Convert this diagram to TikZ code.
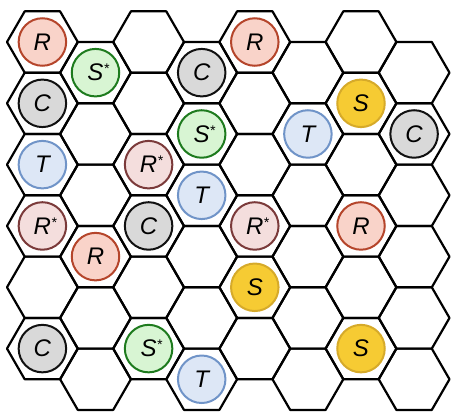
\documentclass[tikz,border=0pt]{standalone}
\usepackage{fontspec}
\setmainfont{Liberation Sans}
\definecolor{rFill}{HTML}{F9D3C9}
\definecolor{rLine}{HTML}{B5452B}
\definecolor{rsFill}{HTML}{F4DEDD}
\definecolor{rsLine}{HTML}{7B3A3A}
\definecolor{ssFill}{HTML}{D8F5D3}
\definecolor{ssLine}{HTML}{1E7B1E}
\definecolor{sFill}{HTML}{F6CB33}
\definecolor{sLine}{HTML}{D6AA2A}
\definecolor{cFill}{HTML}{D9D9D9}
\definecolor{cLine}{HTML}{111111}
\definecolor{tFill}{HTML}{DDE7F6}
\definecolor{tLine}{HTML}{7094C8}
\newcommand\stmark{\rlap{\raisebox{7pt}{\fontsize{14}{14}\selectfont *}}}
\begin{document}
\begin{tikzpicture}[x=53.1pt,y=-30.66pt,
  hexline/.style={draw=black,line width=2.2pt,line join=round},
  tok/.style={circle,minimum size=47.5pt,inner sep=0pt,line width=2pt,
    font=\fontsize{24}{24}\selectfont\itshape},
  tokR/.style={tok,draw=rLine,fill=rFill},
  tokRs/.style={tok,draw=rsLine,fill=rsFill},
  tokSs/.style={tok,draw=ssLine,fill=ssFill},
  tokS/.style={tok,draw=sLine,fill=sFill},
  tokC/.style={tok,draw=cLine,fill=cFill},
  tokT/.style={tok,draw=tLine,fill=tFill}]
\useasboundingbox (-42.4pt,42pt) rectangle (408.6pt,-371pt);
\foreach \c in {0,...,7}{
  \foreach \r in {0,...,5}{
    \pgfmathtruncatemacro\k{2*\r+mod(\c,2)}
    \draw[hexline] (\c+2/3,\k) -- (\c+1/3,\k+1) -- (\c-1/3,\k+1)
      -- (\c-2/3,\k) -- (\c-1/3,\k-1) -- (\c+1/3,\k-1) -- cycle;
  }
}
\node[tokR]  (t1)  at (0,0)  {R};
\node[tokSs] (t2)  at (1,1)  {S\stmark};
\node[tokC]  (t3)  at (3,1)  {C};
\node[tokR]  (t4)  at (4,0)  {R};
\node[tokS]  (t5)  at (6,2)  {S};
\node[tokC]  (t6)  at (7,3)  {C};
\node[tokT]  (t7)  at (5,3)  {T};
\node[tokC]  (t8)  at (0,2)  {C};
\node[tokSs] (t9)  at (3,3)  {S\stmark};
\node[tokT]  (t10) at (0,4)  {T};
\node[tokRs] (t11) at (2,4)  {R\stmark};
\node[tokT]  (t12) at (3,5)  {T};
\node[tokRs] (t13) at (0,6)  {R\stmark};
\node[tokR]  (t14) at (1,7)  {R};
\node[tokC]  (t15) at (2,6)  {C};
\node[tokRs] (t16) at (4,6)  {R\stmark};
\node[tokR]  (t17) at (6,6)  {R};
\node[tokS]  (t18) at (4,8)  {S};
\node[tokS]  (t19) at (6,10) {S};
\node[tokC]  (t20) at (0,10) {C};
\node[tokSs] (t21) at (2,10) {S\stmark};
\node[tokT]  (t22) at (3,11) {T};
\end{tikzpicture}
\end{document}
